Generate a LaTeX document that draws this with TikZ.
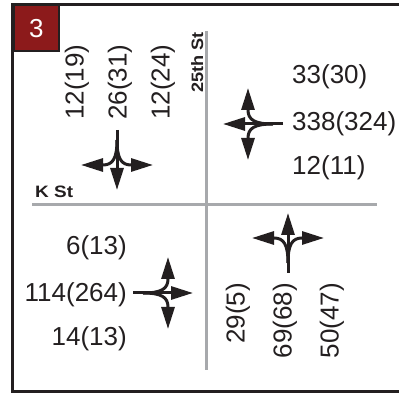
\documentclass[tikz,border=0pt]{standalone}
\usepackage{fontspec}
\setmainfont{Liberation Sans}
\usetikzlibrary{arrows.meta}
\definecolor{ink}{HTML}{231F20}
\definecolor{roadgray}{HTML}{A7A9AC}
\definecolor{boxred}{HTML}{8C1A1B}
\tikzset{
  mvline/.style={line width=3pt, draw=ink, -{Triangle[length=22pt,width=13pt]}},
  mov/.pic={
    \draw[mvline] (0,0) -- (0,60);
    \draw[mvline] (0,10) .. controls (0,28) and (-4,35) .. (-14,35) -- (-36,35);
    \draw[mvline] (0,10) .. controls (0,28) and (4,35) .. (14,35) -- (36,35);
  },
  vol/.style={font=\fontsize{26}{30}\selectfont, text=ink, inner sep=0pt},
  street/.style={font=\fontsize{16.5}{19}\selectfont\bfseries, text=ink, inner sep=0pt},
  road/.style={draw=roadgray, line width=3pt}
}
\begin{document}
\begin{tikzpicture}[x=1pt,y=1pt]
\useasboundingbox (0,0) rectangle (399,393);
% frame
\draw[ink, line width=2.5pt] (12.5,1.5) rectangle (410,388.5);
\node[draw=ink, line width=2pt, fill=boxred, minimum width=45.5pt, minimum height=45.5pt, inner sep=0pt, anchor=north west] (num) at (12.5,388.5) {};
\node[text=white, font=\fontsize{26}{30}\selectfont] (numtxt) at (num.center) {3};
% roads
\coordinate (vt) at (206,362);
\coordinate (vb) at (206,23);
\coordinate (hl) at (32,188);
\coordinate (hr) at (377,188);
\draw[road] (vt) -- (vb);
\draw[road] (hl) -- (hr);
% street names
\node[street, anchor=base west] (kst) at (35,195) {\scalebox{1.15}[1]{K St}};
\node[street, rotate=90, anchor=base west] (st25) at (203,300) {\scalebox{1.1}[1]{25th St}};
% movement arrows
\pic[rotate=180] at (117,263) {mov};
\pic[rotate=90] at (283,269) {mov};
\pic[rotate=-90] at (133,100) {mov};
\pic at (288,120) {mov};
% top-left volumes
\node[vol, rotate=90, anchor=west] (a1) at (77,273) {12(19)};
\node[vol, rotate=90, anchor=west] (a2) at (120,273) {26(31)};
\node[vol, rotate=90, anchor=west] (a3) at (163,273) {12(24)};
% top-right volumes
\node[vol, anchor=west] (b1) at (292,316) {33(30)};
\node[vol, anchor=west] (b2) at (292,269) {338(324)};
\node[vol, anchor=west] (b3) at (292,225) {12(11)};
% bottom-left volumes
\node[vol, anchor=east] (c1) at (127,145) {6(13)};
\node[vol, anchor=east] (c2) at (127,98) {114(264)};
\node[vol, anchor=east] (c3) at (127,54) {14(13)};
% bottom-right volumes
\node[vol, rotate=90, anchor=east] (d1) at (238,110) {29(5)};
\node[vol, rotate=90, anchor=east] (d2) at (285,110) {69(68)};
\node[vol, rotate=90, anchor=east] (d3) at (332,110) {50(47)};
\end{tikzpicture}
\end{document}
